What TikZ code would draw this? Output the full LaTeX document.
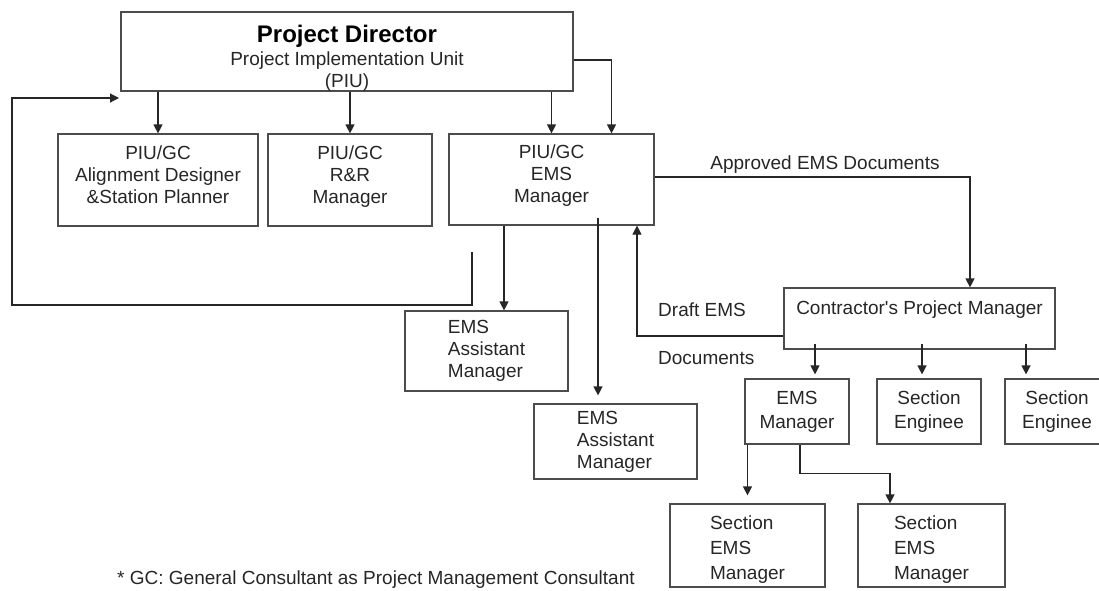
\documentclass[tikz,border=0pt]{standalone}
\usepackage{fontspec}
\setmainfont{Liberation Sans}
\usetikzlibrary{arrows.meta}
\tikzstyle{unit} = [rectangle, draw=black!70, line width=1.2pt, text=black!85, align=center, inner sep=0pt, font=\fontsize{19}{22}\selectfont]
\tikzstyle{note} = [text=black!85, inner sep=0pt, font=\fontsize{19}{22}\selectfont]
\tikzstyle{arrow} = [line width=1.2pt, draw=black!85, -{Triangle[length=9pt,width=9pt]}]
\newcommand{\padtop}{\rule{0pt}{30pt}}
\newcommand{\padbottom}{\rule[-11pt]{0pt}{11pt}}
\newcommand{\padsect}{\rule{0pt}{22pt}}
\begin{document}
\begin{tikzpicture}[x=1pt, y=-1pt]
    \clip (0,0) rectangle (1099,590);
    \node (pd) [unit, minimum width=452pt, minimum height=79pt] at (347,51.5) {\padtop{\fontsize{24}{26}\selectfont\bfseries\color{black}Project Director}\\[1pt]Project Implementation Unit\\(PIU)};
    \node (align) [unit, minimum width=200pt, minimum height=92pt] at (158,180) {PIU/GC\\Alignment Designer\\\&Station Planner\padbottom};
    \node (rr) [unit, minimum width=164pt, minimum height=92pt] at (350,180) {PIU/GC\\R\&R\\Manager\padbottom};
    \node (ems) [unit, minimum width=205pt, minimum height=91pt] at (551.5,179.5) {PIU/GC\\EMS\\Manager\padbottom};
    \node (asst1) [unit, align=left, minimum width=163pt, minimum height=80pt] at (486.5,351) {EMS\\Assistant\\Manager};
    \node (asst2) [unit, align=left, minimum width=163pt, minimum height=75pt] at (615.5,441.5) {EMS\\Assistant\\Manager};
    \node (cpm) [unit, minimum width=271pt, minimum height=61pt] at (919.5,318.5) {Contractor\textquotesingle s Project Manager\\\mbox{}};
    \node (emsm) [unit, minimum width=104pt, minimum height=65pt] at (797,411.5) {EMS\\[2pt]Manager};
    \node (se1) [unit, minimum width=104pt, minimum height=65pt] at (929,411.5) {Section\\[2pt]Enginee};
    \node (se2) [unit, minimum width=104pt, minimum height=65pt] at (1057,411.5) {Section\\[2pt]Enginee};
    \node (sems1) [unit, align=left, minimum width=155pt, minimum height=83pt] at (747.5,545.5) {\padsect Section\\[3pt]EMS\\[3pt]Manager};
    \node (sems2) [unit, align=left, minimum width=147pt, minimum height=83pt] at (931.5,545.5) {\padsect Section\\[3pt]EMS\\[3pt]Manager};

    \node (apprlbl) [note] at (825,165) {Approved EMS Documents};
    \node (draftlbl) [note, anchor=west] at (658,310) {Draft EMS};
    \node (doclbl) [note, anchor=west] at (658,358) {Documents};
    \node (gcnote) [note, anchor=west] at (117,580) {* GC: General Consultant as Project Management Consultant};

    % feedback loop to the director
    \coordinate (loopfrom) at (472,252);
    \coordinate (loopto) at (119,98);
    \draw[arrow] (loopfrom) -- ++(0,53) -- ++(-460,0) |- (loopto);

    \draw[arrow] (align.north |- pd.south) -- (align.north);
    \draw[arrow] (rr.north |- pd.south) -- (rr.north);
    \draw[arrow] (ems.north |- pd.south) -- (ems.north);
    \draw[arrow] ([yshift=-8.5pt]pd.east) -| ([xshift=60pt]ems.north);

    \draw[arrow] ([xshift=-47.5pt]ems.south) -- ([xshift=17.5pt]asst1.north);
    \draw[arrow, shorten >=8pt] ([xshift=46.5pt,yshift=8pt]ems.south) -- ([xshift=-17.5pt]asst2.north);

    % documents between the managers
    \draw[arrow] ([yshift=2.5pt]ems.east) -| ([xshift=50.5pt]cpm.north);
    \draw[arrow] ([yshift=-17.5pt]cpm.west) -| ([xshift=85.5pt]ems.south);

    \draw[arrow, shorten >=4pt] ([xshift=18pt,yshift=6pt]emsm.north |- cpm.south) -- ([xshift=18pt]emsm.north);
    \draw[arrow, shorten >=4pt] ([xshift=-7pt,yshift=6pt]se1.north |- cpm.south) -- ([xshift=-7pt]se1.north);
    \draw[arrow, shorten >=4pt] ([xshift=-31pt,yshift=6pt]se2.north |- cpm.south) -- ([xshift=-31pt]se2.north);

    \draw[arrow, shorten >=8pt] (sems1.north |- emsm.south) -- (sems1.north);
    \draw[arrow] ([xshift=3pt]emsm.south) -- ++(0,29) -| ([xshift=-41.5pt]sems2.north);
\end{tikzpicture}
\end{document}
